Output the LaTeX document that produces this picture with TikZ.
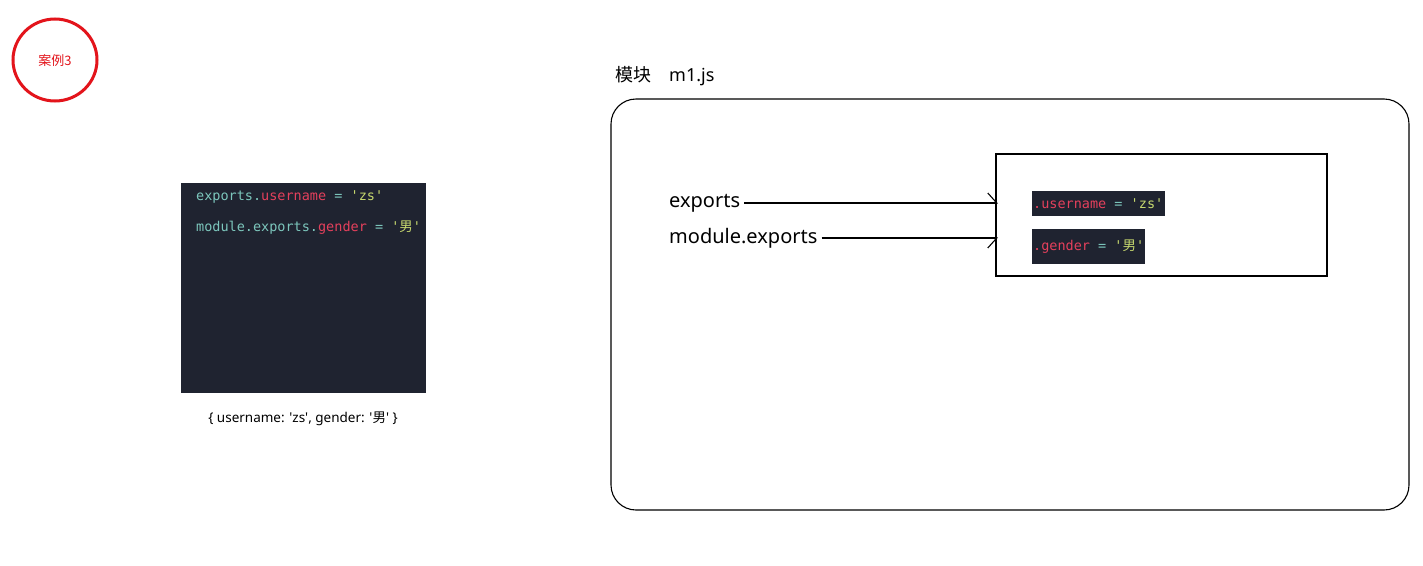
\documentclass[tikz,border=0pt]{standalone}
\usepackage{fontspec}
\setmainfont{Noto Sans}
\setmonofont{DejaVu Sans Mono}
\newfontfamily\cjk{Noto Sans CJK SC}
\usetikzlibrary{arrows.meta,positioning}
\definecolor{cCode}{HTML}{1F2330}
\definecolor{cKey}{HTML}{E4405C}
\definecolor{cObj}{HTML}{7CC6BC}
\definecolor{cStr}{HTML}{C6D86E}
\definecolor{cMark}{HTML}{E3141B}
\newcommand{\kw}[1]{\textcolor{cKey}{#1}}
\newcommand{\ob}[1]{\textcolor{cObj}{#1}}
\newcommand{\st}[1]{\textcolor{cStr}{#1}}
\tikzset{
  ptr/.style={-{Straight Barb[harpoon,length=9pt,width=20pt]}, line width=1.1pt},
  ptrlow/.style={-{Straight Barb[harpoon,swap,length=9pt,width=20pt]}, line width=1.1pt},
  codetxt/.style={anchor=west, inner sep=0pt, font=\ttfamily\fontsize{13.5}{15}\selectfont},
  lbl/.style={anchor=west, inner sep=0pt, font=\fontsize{20}{24}\selectfont},
}

\begin{document}
\begin{tikzpicture}[x=1pt,y=-1pt]
  \useasboundingbox[fill=white] (0,0) rectangle (1423,565);
  % case marker
  \draw[cMark, line width=3pt] (55,60) ellipse (42 and 41);
  \node[text=cMark, font=\cjk\fontsize{13}{15}\selectfont] (mark) at (55,61) {案例3};
  % code sample
  \fill[cCode] (181,183) rectangle (426,393);
  \node[codetxt] (line1) at (196,197) {\ob{exports.}\kw{username} \ob{=} \st{'zs'}};
  \node[codetxt] (line2) at (196,228) {\ob{module.exports.}\kw{gender} \ob{=} \st{'{\cjk 男}'}};
  \node[font=\fontsize{13.5}{15}\selectfont, inner sep=0pt] (result) at (303,419)
    {\{ username: \textquotesingle zs\textquotesingle, gender: \textquotesingle{\cjk 男}\textquotesingle\ \}};
  % module m1.js
  \node[anchor=west, inner sep=0pt, font=\fontsize{18}{22}\selectfont] (title) at (615,76) {{\cjk 模块}\quad m1.js};
  \draw[line width=1.1pt, rounded corners=25pt] (611,99) rectangle (1409,510);
  \draw[line width=1.1pt] (996,154) rectangle (1327,276);
  \coordinate (in1) at (998,203);
  \coordinate (in2) at (998,238);
  \node[lbl] (exp) at (669,203) {exports};
  \node[lbl] (mexp) at (669,238) {module.exports};
  \draw[ptr] (exp.east |- in1) ++(4,0) -- (in1);
  \draw[ptrlow] (mexp.east |- in2) ++(4,0) -- (in2);
  % object fields
  \fill[cCode] (1032,191) rectangle (1165,216);
  \node[codetxt] (f1) at (1033,203.5) {\kw{.username} \ob{=} \st{'zs'}};
  \fill[cCode] (1032,229) rectangle (1145,264);
  \node[codetxt] (f2) at (1033,246.5) {\kw{.gender} \ob{=} \st{'{\cjk 男}'}};
\end{tikzpicture}
\end{document}
